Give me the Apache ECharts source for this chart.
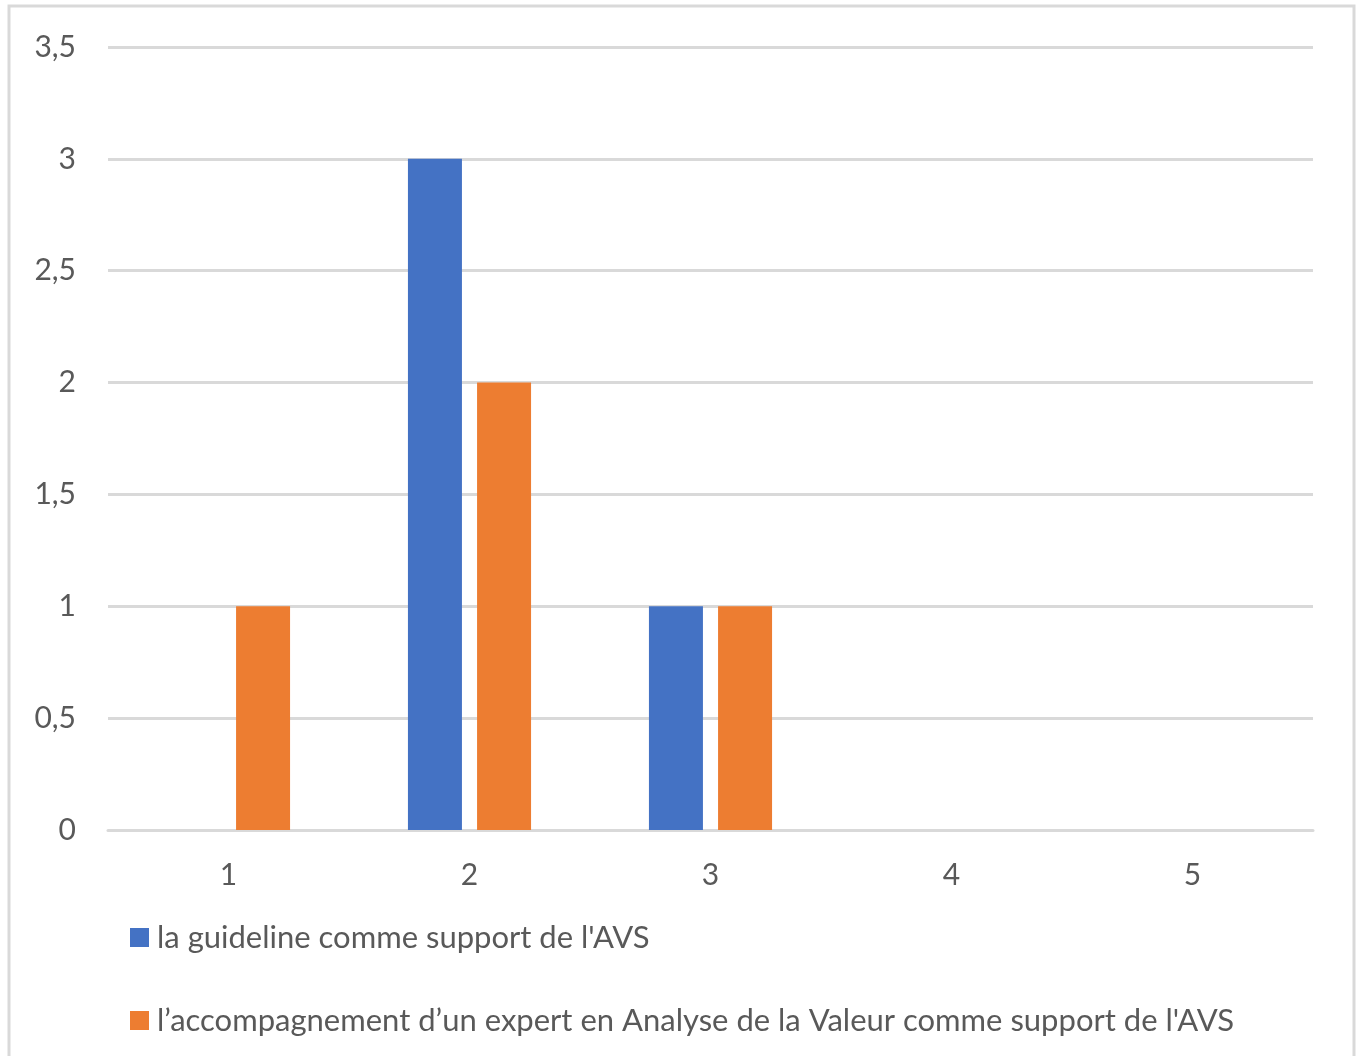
<!DOCTYPE html>
<html>
<head>
<meta charset="utf-8">
<script src="https://cdn.jsdelivr.net/npm/echarts@6/dist/echarts.min.js"></script>
<style>html,body{margin:0;padding:0;background:#fff}#c{width:1360px;height:1056px}</style>
</head>
<body>
<div id="c"></div>
<script>
const categories = ['1', '2', '3', '4', '5'];
const seriesNames = ["la guideline comme support de l'AVS", "l’accompagnement d’un expert en Analyse de la Valeur comme support de l'AVS"];
const guidelineValues = [0, 3, 1, 0, 0];
const expertValues = [1, 2, 1, 0, 0];
const yTicks = [0, 0.5, 1, 1.5, 2, 2.5, 3, 3.5];

const FONT = 'Lato';
const chart = echarts.init(document.getElementById('c'), null, {renderer: 'canvas'});
chart.setOption({
  animation: false,
  backgroundColor: '#fff',
  textStyle: {fontFamily: FONT},
  graphic: [{
    type: 'rect', shape: {x: 9, y: 6, width: 1345, height: 1060},
    style: {fill: 'none', stroke: '#d9d9d9', lineWidth: 3}, silent: true
  }],
  grid: {left: 108, right: 47, top: 47, bottom: 226, containLabel: false},
  legend: {
    orient: 'vertical', left: 125, top: 917,
    itemWidth: 19, itemHeight: 19, itemGap: 52,
    icon: 'rect',
    textStyle: {fontFamily: FONT, fontSize: 31, lineHeight: 30, color: '#595959', padding: [0, 0, 0, 3]},
    data: seriesNames
  },
  xAxis: {
    type: 'category', data: categories,
    axisLine: {show: true, lineStyle: {color: '#d9d9d9', width: 3}},
    axisTick: {show: false},
    axisLabel: {fontFamily: FONT, fontSize: 30, color: '#595959', margin: 30}
  },
  yAxis: {
    type: 'value', min: 0, max: 3.5, interval: 0.5,
    axisLine: {show: false}, axisTick: {show: false},
    splitLine: {lineStyle: {color: '#d9d9d9', width: 3}},
    axisLabel: {fontFamily: FONT, fontSize: 30, color: '#595959', margin: 32,
      formatter: v => yTicks.includes(v) ? String(v).replace('.', ',') : ''}
  },
  series: [
    {name: seriesNames[0], type: 'bar', data: guidelineValues, barWidth: 54, barGap: '28%',
     itemStyle: {color: '#4472C4'}},
    {name: seriesNames[1], type: 'bar', data: expertValues, barWidth: 54, barGap: '28%',
     itemStyle: {color: '#ED7D31'}}
  ]
});
</script>
</body>
</html>
